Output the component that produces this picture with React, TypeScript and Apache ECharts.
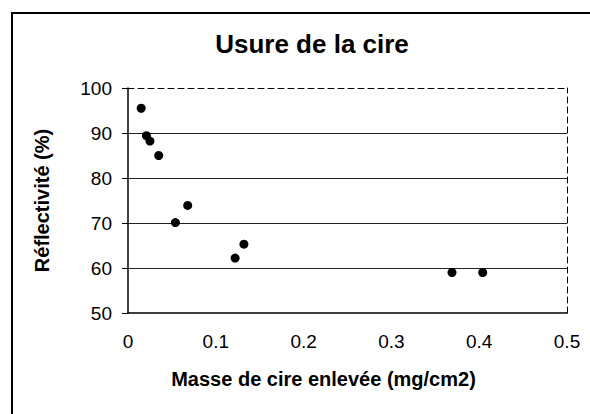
import React, { useEffect, useRef } from "react";
import * as echarts from "echarts";

const massRemoved = [0.015, 0.021, 0.025, 0.035, 0.054, 0.068, 0.122, 0.132, 0.369, 0.404];
const reflectivity = [95.5, 89.4, 88.2, 85.0, 70.1, 73.9, 62.2, 65.3, 59.0, 59.0];
const xTicks = [0, 0.1, 0.2, 0.3, 0.4, 0.5];
const yTicks = [50, 60, 70, 80, 90, 100];

const FONT = "'Liberation Sans', Arial, Helvetica, sans-serif";

export default function App() {
  const ref = useRef<HTMLDivElement>(null);
  useEffect(() => {
    if (!ref.current) return;
    const chart = echarts.init(ref.current, null, { renderer: "svg" });
    const points = massRemoved.map((x, i) => [x, reflectivity[i]]);
    chart.setOption({
      animation: false,
      backgroundColor: "#ffffff",
      title: {
        text: "Usure de la cire",
        left: 307,
        top: 26,
        textAlign: "center",
        textStyle: { fontFamily: FONT, fontWeight: "bold", fontSize: 26, color: "#000" },
      },
      graphic: [
        {
          type: "rect",
          shape: { x: 12, y: 13, width: 600, height: 420 },
          style: { fill: "none", stroke: "#000", lineWidth: 2 },
          silent: true,
        },
      ],
      grid: { left: 128, right: 23, top: 88, bottom: 101, containLabel: false },
      xAxis: [
        {
          type: "value",
          min: xTicks[0],
          max: xTicks[xTicks.length - 1],
          interval: 0.1,
          axisLine: { show: true, onZero: false, lineStyle: { color: "#000", width: 1.5 } },
          axisTick: { show: false },
          splitLine: { show: false },
          axisLabel: {
            margin: 19,
            fontFamily: FONT,
            fontSize: 19,
            color: "#000",
            formatter: (v: number) => String(Math.round(v * 10) / 10),
          },
          name: "Masse de cire enlevée (mg/cm2)",
          nameLocation: "middle",
          nameGap: 56,
          nameTextStyle: { fontFamily: FONT, fontWeight: "bold", fontSize: 20, color: "#000", padding: [0, 48, 0, 0] },
        },
        {
          type: "value",
          position: "top",
          min: 0,
          max: 0.5,
          interval: 0.1,
          axisLine: { show: true, onZero: false, lineStyle: { color: "#000", width: 1, type: [6, 4] } },
          axisTick: { show: false },
          axisLabel: { show: false },
          splitLine: { show: false },
        },
      ],
      yAxis: [
        {
          type: "value",
          min: yTicks[0],
          max: yTicks[yTicks.length - 1],
          interval: 10,
          axisLine: { show: true, onZero: false, lineStyle: { color: "#000", width: 1.5 } },
          axisTick: { show: true, inside: false, length: 6, lineStyle: { color: "#000" } },
          splitLine: { show: true, showMinLine: false, showMaxLine: false, lineStyle: { color: "#222", width: 1 } },
          axisLabel: { margin: 16, fontFamily: FONT, fontSize: 19, color: "#000" },
          name: "Réflectivité (%)",
          nameLocation: "middle",
          nameGap: 76,
          nameTextStyle: { fontFamily: FONT, fontWeight: "bold", fontSize: 20, color: "#000" },
        },
        {
          type: "value",
          position: "right",
          min: 50,
          max: 100,
          interval: 10,
          axisLine: { show: true, onZero: false, lineStyle: { color: "#000", width: 1, type: [6, 4] } },
          axisTick: { show: false },
          axisLabel: { show: false },
          splitLine: { show: false },
        },
      ],
      series: [
        {
          type: "scatter",
          data: points,
          symbol: "circle",
          symbolSize: 9,
          itemStyle: { color: "#000", opacity: 1 },
        },
      ],
    });
    return () => chart.dispose();
  }, []);
  return (
    <div
      ref={ref}
      style={{ position: "fixed", left: 0, top: 0, width: 590, height: 414 }}
    />
  );
}
